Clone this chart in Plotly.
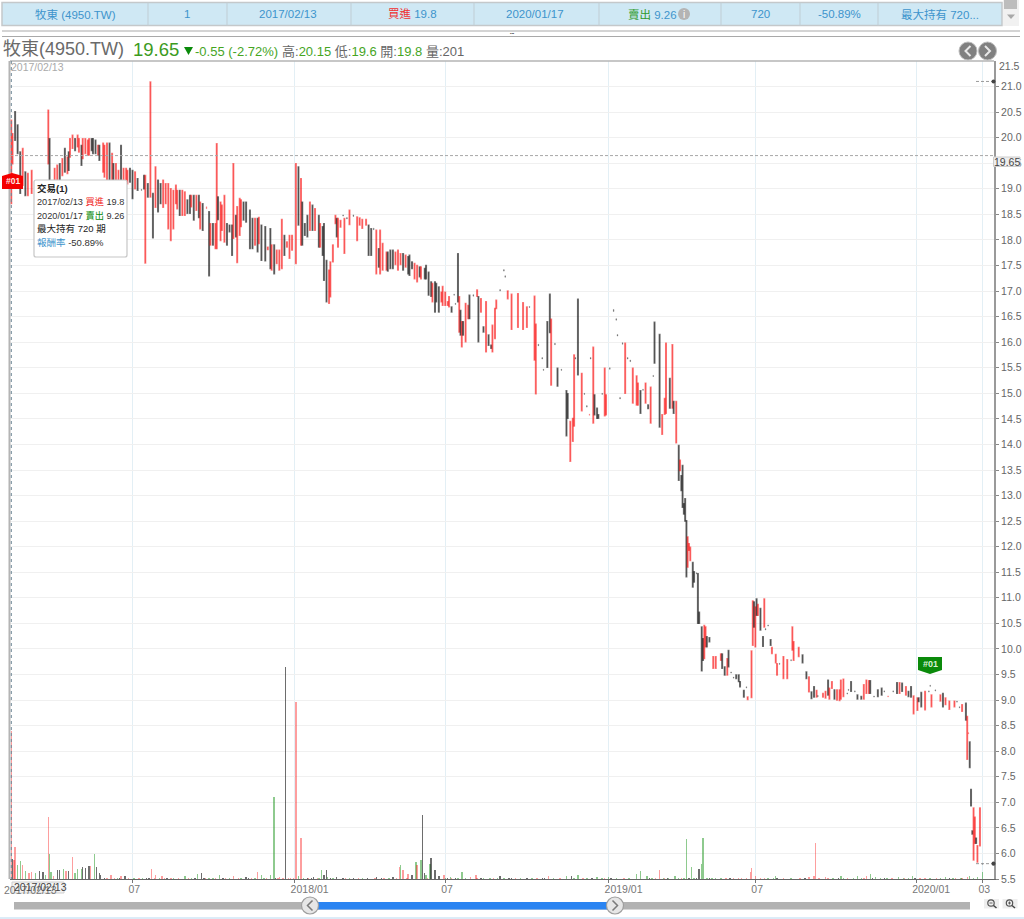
import plotly.graph_objects as go

# ---------- chart values ----------
days = [
 0,1,3,5,7,9,11,13,16,29,30,34,36,38,40,42,44,45,46,48,
 50,52,53,55,56,58,60,61,63,64,66,68,69,72,73,75,77,79,80,82,
 84,86,88,90,91,93,95,97,99,102,104,105,107,109,111,113,115,117,119,121,
 123,125,127,129,130,132,134,136,138,140,141,143,145,147,148,150,153,155,156,158,
 160,161,162,164,165,167,169,171,173,174,176,177,179,180,182,184,187,189,191,193,
 194,196,199,201,203,204,206,208,210,212,214,216,218,220,223,225,227,228,230,232,
 234,236,238,241,242,244,245,247,249,250,252,254,255,256,258,260,261,263,265,268,
 271,273,275,278,280,282,284,286,288,289,291,294,295,297,299,301,303,305,307,309,
 311,312,314,316,318,320,321,324,325,327,329,330,332,333,335,337,338,340,342,343,
 345,347,348,350,351,352,353,354,356,358,359,362,365,366,368,370,372,374,376,377,
 379,380,383,386,387,389,392,397,401,404,406,410,411,413,416,417,420,422,423,426,
 428,431,435,436,438,440,441,442,444,447,449,451,453,454,456,457,459,460,463,465,
 466,469,472,474,475,477,479,481,483,485,487,490,491,493,495,497,499,501,503,504,
 508,510,512,513,516,518,519,521,523,524,525,526,527,528,529,530,531,532,534,535,
 537,538,539,541,542,543,544,545,547,550,552,556,557,559,561,562,564,566,568,570,
 571,574,576,577,580,581,582,583,584,585,587,589,590,591,593,595,596,599,600,602,
 605,608,611,612,613,617,620,623,625,627,629,631,632,636,638,640,641,643,645,647,
 649,650,652,655,656,658,661,663,666,668,670,672,673,676,679,682,684,687,691,694,
 696,698,701,703,705,707,710,711,713,716,719,720,721,724,728,730,732,735,739,741,
 743,745,748,749,750,751,752,753,754,755,756,757,759,761,
]
highs = [
 20.34,20.08,20.51,20.25,19.72,19.79,19.33,19.3,19.36,20.54,19.98,19.4,19.46,19.49,19.59,19.79,19.62,19.72,19.98,20.05,
 19.98,20.05,19.98,19.85,19.98,19.98,19.95,19.98,19.98,19.98,19.95,19.85,19.85,19.89,19.85,19.89,19.89,19.69,19.49,19.49,
 19.36,19.85,19.4,19.4,19.36,19.4,19.36,19.33,19.2,18.99,19.26,19.26,19.1,21.09,18.91,19.43,19.17,19.1,19.17,19.1,
 19.1,19.0,18.97,19.07,18.97,18.97,18.97,18.94,18.78,18.87,18.87,18.87,18.87,18.87,18.74,18.71,18.65,18.55,18.32,18.32,
 18.32,19.88,18.84,18.74,18.68,18.87,18.32,18.29,18.29,19.49,18.48,18.65,18.81,18.78,18.74,18.74,18.58,18.42,18.42,18.42,
 18.44,18.29,18.26,17.86,18.22,17.9,17.9,17.8,17.8,18.4,18.09,17.96,18.09,18.09,19.49,19.43,19.2,18.74,18.32,18.48,
 18.74,18.68,18.61,18.48,18.32,18.26,18.32,17.6,17.41,17.57,17.9,18.48,18.42,18.42,18.38,18.49,18.42,18.44,18.58,18.49,
 18.45,18.43,18.4,18.4,18.29,18.22,18.23,18.19,17.83,18.19,17.93,17.76,17.76,17.8,17.8,17.76,17.8,17.73,17.73,17.7,
 17.67,17.7,17.57,17.54,17.5,17.47,17.47,17.44,17.5,17.37,17.18,17.15,17.18,17.15,17.08,16.98,17.09,16.98,16.79,16.89,
 16.69,16.94,16.76,17.73,16.89,16.62,16.4,16.4,16.76,16.72,16.92,16.93,17.02,16.89,16.85,16.3,16.79,16.14,15.94,16.33,
 16.66,16.82,17.03,17.42,17.3,17.0,16.94,16.95,16.77,16.69,16.7,16.9,16.35,15.96,15.7,15.47,16.4,16.94,16.45,15.98,
 15.49,15.47,15.05,14.99,14.45,14.51,15.75,15.7,16.84,15.39,15.0,14.76,14.59,15.7,15.9,14.97,14.71,14.58,15.0,15.49,
 14.97,15.5,16.64,16.46,16.15,14.92,15.99,15.98,15.7,15.65,15.49,15.34,15.2,15.05,15.08,15.2,14.77,15.12,15.35,16.39,
 16.15,14.58,14.9,15.98,15.29,15.95,14.84,14.84,13.98,13.69,13.39,13.59,12.84,12.94,12.51,12.19,12.06,11.99,11.69,11.51,
 11.49,11.47,10.72,10.43,10.2,10.46,10.43,10.24,10.22,9.85,9.85,9.9,9.9,9.65,9.81,9.97,9.55,9.45,9.49,9.49,
 9.36,9.19,9.26,9.06,9.96,10.94,10.92,10.82,10.98,10.87,10.79,10.24,10.98,10.4,10.47,10.18,10.03,9.89,9.71,9.72,
 9.85,9.79,9.79,10.43,10.14,10.03,9.88,9.55,9.45,9.16,9.26,9.19,9.09,9.13,9.17,9.39,9.23,9.36,9.2,9.2,
 9.2,9.39,9.41,9.14,9.21,9.36,9.18,9.1,9.07,9.3,9.39,9.38,9.38,9.08,9.2,9.23,9.18,9.08,9.18,9.34,
 9.34,9.33,9.26,9.17,9.26,9.08,9.04,9.04,9.15,9.17,9.18,9.29,9.1,9.2,9.1,9.13,9.04,8.98,8.98,8.98,
 8.87,8.91,8.94,8.68,8.36,8.18,7.25,6.44,6.89,6.71,6.3,6.15,6.89,5.81,
]
lows = [
 18.71,19.49,19.95,19.69,18.91,19.07,18.87,18.87,18.91,19.49,19.17,18.97,19.04,19.17,19.26,19.33,19.3,19.36,19.62,19.79,
 19.75,19.82,19.72,19.46,19.59,19.69,19.66,19.66,19.75,19.69,19.69,19.66,19.56,19.33,19.23,19.17,19.17,19.17,19.17,19.17,
 19.17,19.17,19.17,19.17,19.1,19.13,18.81,19.0,18.97,18.97,19.0,17.55,18.84,18.84,18.04,18.64,18.55,18.71,18.64,18.71,
 18.22,17.99,18.22,18.71,18.61,18.48,18.48,18.48,18.52,18.52,18.65,18.39,18.58,18.44,18.22,18.19,18.61,17.3,17.9,17.9,
 17.83,17.83,18.4,17.99,18.19,17.96,17.9,18.16,17.7,18.03,18.06,17.56,18.09,18.26,18.39,18.35,17.83,17.83,17.9,17.77,
 17.93,17.6,17.59,17.81,17.44,17.41,17.34,17.54,17.41,17.44,17.7,17.86,17.64,17.8,17.54,18.29,17.9,17.9,18.09,18.06,
 18.19,18.19,18.19,17.86,17.86,17.7,17.21,16.79,16.76,16.89,17.57,18.32,18.06,17.86,18.25,18.47,17.74,18.41,18.3,18.46,
 17.99,18.29,18.23,18.29,17.7,17.7,18.2,17.34,17.47,17.34,17.41,17.41,17.39,17.44,17.44,17.52,17.41,17.52,17.41,17.47,
 17.34,17.31,17.44,17.24,17.18,17.28,17.24,17.24,17.24,16.92,16.9,16.79,16.59,16.79,16.59,16.79,16.72,16.72,16.72,16.69,
 16.59,16.92,16.74,16.79,16.2,16.14,15.91,16.14,16.01,16.46,16.46,16.9,16.9,16.01,16.59,16.2,15.81,15.94,15.88,15.81,
 16.07,16.66,17.0,17.39,17.27,16.85,16.25,16.29,16.25,16.29,16.68,15.65,14.99,15.93,15.67,15.45,15.51,16.19,15.16,15.95,
 15.14,15.45,14.17,14.51,13.67,14.06,14.36,15.67,15.36,14.66,14.98,14.73,14.57,15.67,14.42,14.58,14.51,14.51,14.98,14.56,
 14.58,15.47,16.6,16.43,16.12,14.89,15.96,15.0,15.67,15.62,14.81,14.77,14.77,14.61,15.06,14.81,14.7,14.42,15.33,15.59,
 14.34,14.2,14.59,14.61,14.71,14.71,14.61,14.03,13.3,13.49,13.1,12.77,12.64,12.5,11.41,11.6,11.93,11.73,11.21,11.31,
 11.47,10.5,10.5,9.57,9.78,9.81,10.04,10.04,10.14,9.62,9.62,9.78,9.62,9.49,9.49,9.65,9.53,9.43,9.42,9.36,
 9.26,9.06,9.24,9.01,9.05,10.07,10.43,10.04,10.66,10.66,10.37,10.05,10.43,10.37,10.45,10.07,9.91,9.73,9.49,9.7,
 9.42,9.42,9.77,9.98,9.78,9.85,9.73,9.42,9.16,9.03,9.06,9.06,9.07,9.06,9.04,9.1,9.02,9.23,9.02,9.0,
 8.99,9.02,9.07,9.12,9.19,9.17,9.16,9.02,9.02,9.02,9.13,9.13,9.13,9.06,9.07,9.1,9.16,9.06,9.16,9.13,
 9.13,9.17,9.1,9.07,9.06,8.73,8.8,8.97,8.87,8.81,9.16,9.27,8.87,9.18,8.98,8.87,8.91,8.82,8.87,8.96,
 8.85,8.78,8.61,7.84,8.34,7.68,6.93,6.38,5.87,6.2,6.2,5.83,6.15,5.79,
]
# r = close above open (red), k = close below open (black)
sides = ("rrkkkrkrrrkrrkrkrkrr" "krrkrrrrkkkrkrrrkrkr" "rkrrrkkrkkkrkrkrkkrr" "rrrrrkrrkkrkrkrkrkrk"
         "rrkrrrkkkrkrrrkkkkrk" "rkkrkrkrrrkrrrrkrkkk" "rkrkrkkkrrrrkrrkrkrk" "rrrrkkkrkrrrkkkrrrkr"
         "kkkrrkrkkkkrkkkrrrrr" "kkkkrkrkrrkkrkrkrkkr" "rrkkkrrrrrkrrkkkkkrk" "kkkkrrrkkrkkrkrkkkkr"
         "rkkkkkkrkkrrrkkrkrkk" "krrrkrkrkrkkkkkrrrkk" "kkkkkrrkkrrrkkrkkkkk" "kkkrrrkrkrkkrkkkrrrk"
         "rrkrrrkkrkkrkrrkrrkr" "rrrkkkkkkrrrkkkkkrkk" "rkrkkrrkkrkkrkrkrrrk" "krkrrkkkrrkrrk")

vol_days = [
 0,1,2,3,5,7,9,11,14,16, 19,22,25,27,29,30,31,33,36,38, 41,43,45,48,50,52,55,56,58,61,
 62,65,67,69,70,78,86,89,106,110, 113,118,136,146,149,163,174,184,193,196,
 203,206,210,215,217,223,225,227,237,243, 245,247,248,255,286,299,304,305,307,311,
 314,317,318,321,322,324,325,328,329,332, 335,339,344,353,360,364,375,383,390,404,
 421,435,439,444,459,468,490,493,498,508, 520,529,533,539,541,542,549,572,579,580,
 583,593,599,625,629,630,638,650,663,670, 673,677,695,706,716,732,749,751,757,761,
]
vol_vals = [
 148,20,19,32,14,18,14,8,6,7, 6,8,7,4,62,25,7,3,9,9, 10,8,8,22,6,10,10,12,11,13,
 13,25,12,6,4,4,3,3,1,10, 4,3,3,5,6,4,3,2,7,4,
 4,82,2,212,1,177,3,41,2,9, 4,9,2,2,2,2,12,14,9,5,
 4,17,14,19,64,6,4,15,21,9, 3,4,2,7,2,4,1,3,1,1,
 3,3,3,4,2,2,5,8,3,9, 3,40,12,10,15,41,1,1,7,11,
 3,1,3,2,3,36,2,3,3,3, 5,2,2,3,1,2,2,3,2,7,
]
vol_sides = ("rkrrggrgrr" "gkkgrggrkk" "grkrgggkkk" "rgkkkrrkkr" "rrggkgrkrg" "ggrkrrgrkg" "kkgkkkrgrr"
             "kgrgkkggkk" "krggrrgkkk" "rgkggggggr" "gggkgggrrr" "rggrrrrggr" "ggggrgrggg")
# the low ticks that run along the base of the volume panel
low_vol_red = [75,81,92,100,112,120,125,131,139,152,160,168,178,188,200,209,213,219,221,233,240,262,272,
               285,292,302,310,326,345,365,378,395,412,430,448,465,480,505,512,525,560,566,570,576,587,
               590,605,618,633,640,655,668,690,700,712,725,740,745]
low_vol_green = [83,96,103,116,127,141,155,158,171,180,191,198,229,241,252,265,275,296,340,350,356,370,
                 381,386,399,408,425,441,451,463,474,484,502,511,515,523,527,535,545,552,556,597,611,
                 644,652,660,666,681,686,699,703,720,728,738,744,754]
low_vol_black = [73,85,108,122,144,151,166,186,207,232,235,250,260,268,279,290,342,348,368,392,416,
                 418,455,470,500,514,531,537,547,563,600,622,648,675,684,708,735]

tick_days = [95, 222, 340, 468, 583, 709, 761]
tick_text = ["07", "2018/01", "07", "2019/01", "07", "2020/01", "03"]
price_ticks = [5.5, 6.0, 6.5, 7.0, 7.5, 8.0, 8.5, 9.0, 9.5, 10.0, 10.5, 11.0, 11.5, 12.0, 12.5, 13.0,
               13.5, 14.0, 14.5, 15.0, 15.5, 16.0, 16.5, 17.0, 17.5, 18.0, 18.5, 19.0, 19.5, 20.0, 20.5, 21.0]
last_price = 19.65
period_high = 21.1
period_low = 5.8

table_cols = [148, 227, 351, 474, 599, 721, 800, 878]
BLUE = "#3d94cc"
FONT = "Liberation Sans, Noto Sans CJK TC, sans-serif"

# ---------- helpers for page furniture (pixel -> paper) ----------
L, R, T, B = 10, 994, 61, 879
P = lambda x: (x-L)/(R-L)
Q = lambda y: (B-y)/(B-T)
shapes, notes = [], []

def rect(x0, y0, x1, y1, fill=None, line=None, w=1, layer="above"):
    shapes.append(dict(type="rect", xref="paper", yref="paper", x0=P(x0), x1=P(x1), y0=Q(y0), y1=Q(y1),
                       fillcolor=fill or "rgba(0,0,0,0)", line=dict(color=line or "rgba(0,0,0,0)", width=w if line else 0), layer=layer))
def seg(x0, y0, x1, y1, color, w=1, dash="solid", layer="above"):
    shapes.append(dict(type="line", xref="paper", yref="paper", x0=P(x0), x1=P(x1), y0=Q(y0), y1=Q(y1),
                       line=dict(color=color, width=w, dash=dash), layer=layer))
def circ(cx, cy, r, fill=None, line=None, w=1):
    shapes.append(dict(type="circle", xref="paper", yref="paper", x0=P(cx-r), x1=P(cx+r), y0=Q(cy-r), y1=Q(cy+r),
                       fillcolor=fill or "rgba(0,0,0,0)", line=dict(color=line or "rgba(0,0,0,0)", width=w if line else 0), layer="above"))
def poly(points, fill):
    d = "M" + " L".join(f"{P(x):.5f},{Q(y):.5f}" for x, y in points) + " Z"
    shapes.append(dict(type="path", xref="paper", yref="paper", path=d, fillcolor=fill, line=dict(width=0), layer="above"))
def text(x, y, s, size=11, color="#666", anchor="left", family=FONT):
    notes.append(dict(xref="paper", yref="paper", x=P(x), y=Q(y), text=s, showarrow=False, xanchor=anchor, yanchor="middle",
                      font=dict(size=size, color=color, family=family), borderpad=0, borderwidth=0))
def chevron(cx, cy, d, color, w=2):
    shapes.append(dict(type="path", xref="paper", yref="paper",
                       path=f"M{P(cx-d*2.5):.5f},{Q(cy-5):.5f} L{P(cx+d*2.5):.5f},{Q(cy):.5f} L{P(cx-d*2.5):.5f},{Q(cy+5):.5f}",
                       line=dict(color=color, width=w), layer="above"))

# ---------- top table row ----------
rect(2, 2.5, 1002, 25.5, "#cfe8f4", "#c4c8ca", 1.5)
rect(1003, 0, 1019, 26, "#f1f1f1")
rect(1004, 0, 1017, 9, "#bdbdbd")
poly([(1007, 14.5), (1015, 14.5), (1011, 19)], "#a8a8a8")
for c in table_cols:
    seg(c, 2.5, c, 25.5, "#c0cdd4", 1)
for cx, s in [(75, "牧東 (4950.TW)"), (187, "1"), (288, "2017/02/13"),
              (412, '<span style="color:#f03030">買進</span> 19.8'), (535, "2020/01/17"),
              (652, '<span style="color:#2e9a2e">賣出</span> 9.26'), (760, "720"), (839, "-50.89%"), (940, "最大持有 720...")]:
    text(cx, 14, s, 11.5, BLUE, "center")
circ(684, 14, 6, "#b4b4b4")
text(684, 14, "i", 10, "#ffffff", "center")
seg(2, 31, 1020, 31, "#a9a9a9", 1)
seg(2, 36.5, 1020, 36.5, "#a9a9a9", 1)
text(512, 33.8, "•••", 4, "#333", "center")

# ---------- header ----------
text(3, 49, "牧東(4950.TW)", 18, "#6a6a6a")
text(132.5, 49, "19.65", 18.5, "#3c9b1e")
poly([(184, 47), (193, 47), (188.5, 55)], "#0a8a0a")
text(195, 51, "-0.55 (-2.72%)", 13, "#46a51f")
G = lambda s: f'<span style="color:#46a51f">{s}</span>'
text(282, 51, f"高:{G('20.15')} 低:{G('19.6')} 開:{G('19.8')} 量:201", 13, "#666")
for cx, d in [(968, -1), (987.5, 1)]:
    circ(cx, 51, 9, "#808080", "#bcbcbc", 1)
    chevron(cx, 51, d, "#e8e8e8")

# ---------- frame and plot furniture ----------
seg(L, T, R, T, "#b4b4b4", 1.5)
seg(9.5, T, 9.5, B, "#b4b4b4", 2)
seg(11.3, T, 11.3, B, "#6f8796", 1, "dot")
text(11, 66.5, "2017/02/13", 10.5, "#aaaaaa")
text(R+5, 65.8, "21.5", 10.5, "#666")

# last / high / low markers in data coordinates
for yv in [period_high, period_low]:
    shapes.append(dict(type="line", xref="paper", yref="y", x0=P(976), x1=P(993), y0=yv, y1=yv,
                       line=dict(color="#999", width=1, dash="3px,2px"), layer="above"))
    shapes.append(dict(type="circle", xref="paper", yref="y", x0=P(991.5), x1=P(995.5), y0=yv-0.04, y1=yv+0.04,
                       fillcolor="#444", line=dict(width=0), layer="above"))
shapes.append(dict(type="line", xref="paper", yref="y", x0=0, x1=1, y0=last_price, y1=last_price,
                   line=dict(color="#a8a8a8", width=1, dash="3px,2px"), layer="above"))
rect(993.5, 157, 1020, 166.5, "#eeeeee", "#cccccc", 1)
text(1006.5, 162, "19.65", 10.5, "#444", "center")

# badges
poly([(2, 176), (12, 173), (23, 176), (23, 189), (2, 189)], "#f40000")
text(12.5, 181.5, "<b>#01</b>", 8.5, "#ffe8e8", "center")
poly([(918, 657), (942, 657), (942, 670), (930, 674), (918, 670)], "#0a8a0a")
text(930, 663.5, "<b>#01</b>", 9, "#d8f0d8", "center")

# tooltip
shapes.append(dict(type="path", xref="paper", yref="paper", layer="above", fillcolor="#ffffff", line=dict(color="#c6c6c6", width=1.2),
                   path=f"M{P(36):.5f},{Q(180):.5f} L{P(125):.5f},{Q(180):.5f} Q{P(127):.5f},{Q(180):.5f} {P(127):.5f},{Q(182):.5f} "
                        f"L{P(127):.5f},{Q(255):.5f} Q{P(127):.5f},{Q(257):.5f} {P(125):.5f},{Q(257):.5f} L{P(36):.5f},{Q(257):.5f} "
                        f"Q{P(34):.5f},{Q(257):.5f} {P(34):.5f},{Q(255):.5f} L{P(34):.5f},{Q(182):.5f} Q{P(34):.5f},{Q(180):.5f} {P(36):.5f},{Q(180):.5f} Z"))
text(37, 188, "<b>交易(1)</b>", 9.5, "#222")
text(37, 201.5, '2017/02/13 <span style="color:#f02020">買進</span> 19.8', 9.2, "#333")
text(37, 215.5, '2020/01/17 <span style="color:#0a8a0a">賣出</span> 9.26', 9.2, "#333")
text(37, 229, "最大持有 720 期", 9.5, "#222")
text(37, 243, f'<span style="color:{BLUE}">報酬率</span> -50.89%', 9.5, "#333")

# bottom date box and range slider
text(4, 890, "2017/02/13", 10.5, "#777")
rect(12, 882, 64, 893, "#f3f3f3", "#cfcfcf", 1)
text(14, 887.5, "2017/02/13", 10.5, "#444")
rect(14, 902, 970, 909.5, "#b2b2b2")
rect(310, 902, 615, 909.5, "#2a84f2")
for cx, d in [(310, -1), (615, 1)]:
    circ(cx, 905.5, 8.5, "#e6e6e6", "#9e9e9e", 1.2)
    chevron(cx, 905.5, d, "#7a7a7a", 1.5)
for cx, sign in [(991.5, "-"), (1010, "+")]:
    rect(cx-7.5, 899, cx+7.5, 908.5, "#eeeeee")
    circ(cx-0.5, 903, 3.2, None, "#555", 1.2)
    seg(cx+2, 905.5, cx+5, 908, "#444", 1.5)
    seg(cx-2, 903, cx+1, 903, "#444", 0.8)
    if sign == "+":
        seg(cx-0.5, 901.5, cx-0.5, 904.5, "#444", 0.8)
seg(0, 918, 1024, 918, "#b8d8f0", 1)

# ---------- traces ----------
RED, BLACK = "rgba(250,0,0,0.5)", "rgba(20,20,20,0.58)"
assert len(days) == len(highs) == len(lows) == len(sides)
assert len(vol_days) == len(vol_vals) == len(vol_sides)
opens = [l if s == "r" else h for h, l, s in zip(highs, lows, sides)]
closes = [h if s == "r" else l for h, l, s in zip(highs, lows, sides)]
# sessions that barely traded print as faint specks; the rest as candles
wide = [i for i in range(len(days)) if highs[i]-lows[i] >= 0.05]
flat = [i for i in range(len(days)) if highs[i]-lows[i] < 0.05]
pick = lambda seq, idx: [seq[i] for i in idx]

vol_color = {"r": "rgba(250,0,0,0.38)", "g": "rgba(30,150,30,0.5)", "k": "rgba(30,30,30,0.65)"}
all_vol_days = vol_days + low_vol_red + low_vol_green + low_vol_black
all_vol_vals = vol_vals + [1.5]*len(low_vol_red) + [1.5]*len(low_vol_green) + [1.5]*len(low_vol_black)
all_vol_cols = ([vol_color[s] for s in vol_sides] + [vol_color["r"]]*len(low_vol_red)
                + [vol_color["g"]]*len(low_vol_green) + [vol_color["k"]]*len(low_vol_black))

fig = go.Figure()
fig.add_trace(go.Bar(x=all_vol_days, y=all_vol_vals, width=1.1, yaxis="y2", name="量",
                     marker=dict(color=all_vol_cols, line=dict(width=0))))
fig.add_trace(go.Candlestick(x=pick(days, wide), open=pick(opens, wide), high=pick(highs, wide), low=pick(lows, wide),
                             close=pick(closes, wide), name="牧東", whiskerwidth=0,
                             increasing=dict(line=dict(color=RED, width=1.4), fillcolor=RED),
                             decreasing=dict(line=dict(color=BLACK, width=1.4), fillcolor=BLACK)))
fig.add_trace(go.Candlestick(x=pick(days, flat), open=pick(opens, flat), high=pick(highs, flat), low=pick(lows, flat),
                             close=pick(closes, flat), name="牧東", whiskerwidth=0,
                             increasing=dict(line=dict(color="rgba(250,0,0,0.35)", width=0.6), fillcolor="rgba(250,0,0,0.35)"),
                             decreasing=dict(line=dict(color="rgba(40,40,40,0.45)", width=0.6), fillcolor="rgba(40,40,40,0.45)")))
fig.update_layout(
    width=1024, height=919, margin=dict(l=L, r=1024-R, t=T, b=919-B, pad=0, autoexpand=False),
    paper_bgcolor="white", plot_bgcolor="white", showlegend=False, bargap=0,
    font=dict(family=FONT, color="#666"), shapes=shapes, annotations=notes,
    xaxis=dict(type="linear", range=[-1, 770], rangeslider=dict(visible=False), tickmode="array", automargin=False,
               tickvals=tick_days, ticktext=tick_text, ticklabelposition="outside right", ticklabelshift=-5,
               ticks="outside", ticklen=3, tickcolor="#777", tickfont=dict(size=10.5, color="#777"),
               showgrid=True, gridcolor="#e3eff5", gridwidth=1, zeroline=False,
               showline=True, linecolor="#666", linewidth=1),
    yaxis=dict(side="right", range=[5.5, 21.5], tickmode="array", tickvals=price_ticks, automargin=False,
               ticktext=[f"{v:.1f}" for v in price_ticks], ticks="outside", ticklen=3, tickcolor="#888",
               tickfont=dict(size=10.5, color="#666"), showgrid=True, gridcolor="#f0f0f0", gridwidth=1,
               zeroline=False, showline=True, linecolor="#9a9a9a", linewidth=2),
    yaxis2=dict(overlaying="y", range=[0, 818], visible=False, showgrid=False, automargin=False),
)
fig.write_html("out.html", config={"displayModeBar": False},
               post_script="document.body.style.margin='0';document.body.style.overflow='hidden';")
